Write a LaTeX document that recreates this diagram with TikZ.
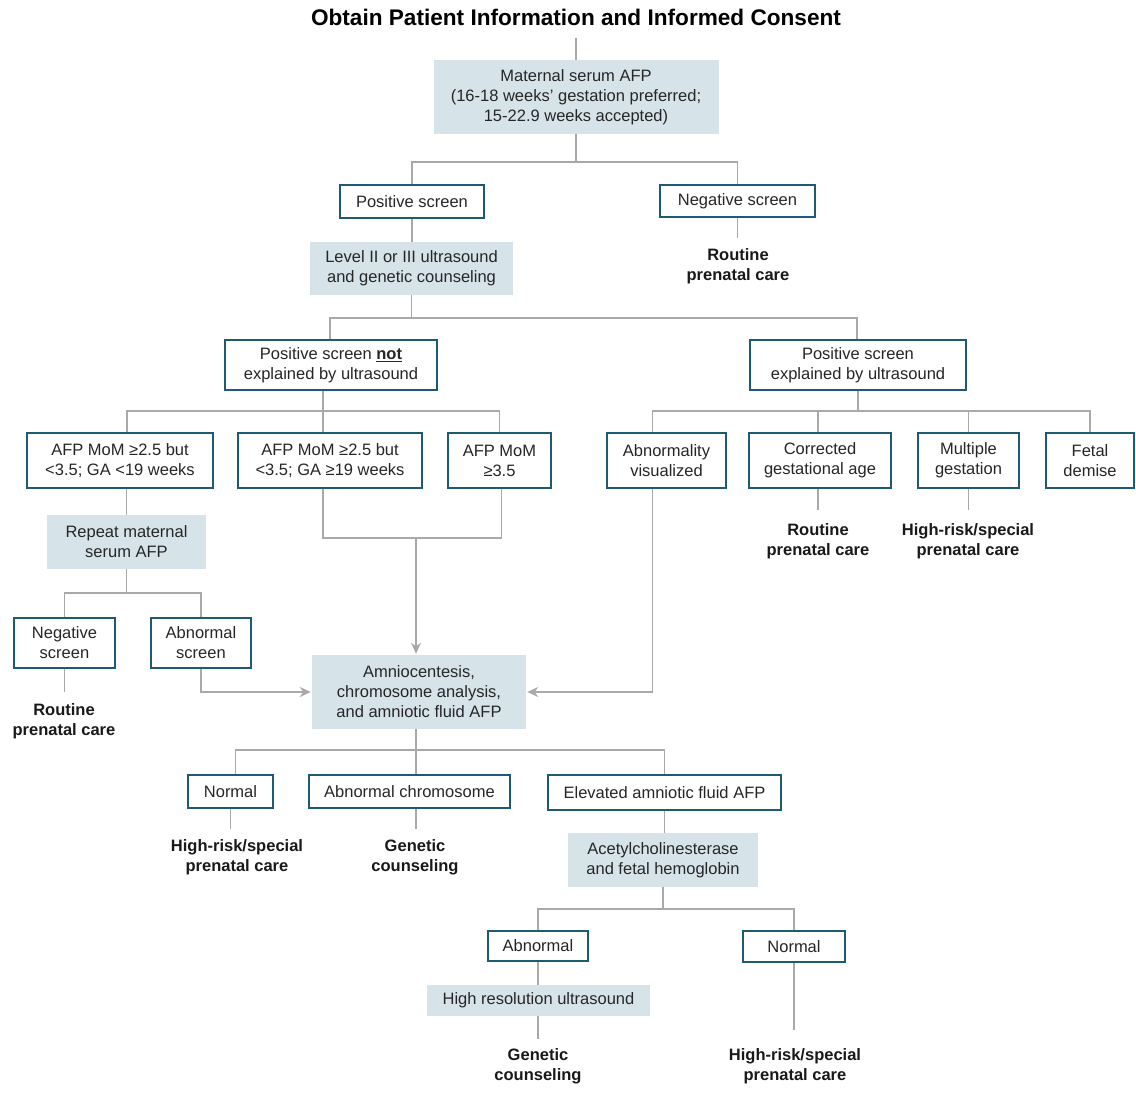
\documentclass[tikz,border=0pt]{standalone}
\usepackage{fontspec}
\setmainfont{Liberation Sans}
\usetikzlibrary{arrows.meta}
\definecolor{boxfill}{HTML}{D6E4E9}
\definecolor{boxline}{HTML}{1F5A73}
\definecolor{conncol}{HTML}{A9A9A9}
\definecolor{txt}{HTML}{262626}
\begin{document}
\begin{tikzpicture}[x=1pt,y=-1pt,
  every node/.style={font=\fontsize{16.5}{20}\selectfont, text=txt, align=center, inner sep=0pt},
  obox/.style={draw=boxline, line width=1.8pt, fill=white},
  fbox/.style={fill=boxfill},
  lbl/.style={font=\fontsize{16.5}{20}\selectfont\bfseries, text=black!90},
  conn/.style={draw=conncol, line width=1.8pt},
  arr/.style={conn, -{Stealth[length=11pt,width=10pt]}}
]
\useasboundingbox (0,0) rectangle (1136,1104);
\fill[white] (0,0) rectangle (1136,1104);

% title
\node[font=\fontsize{22.6}{26}\selectfont\bfseries, text=black] (title) at (576,17) {Obtain Patient Information and Informed Consent};
\coordinate (c0) at (576,38);

% level 1
\node[fbox, minimum width=285, minimum height=74] (msafp) at (576,97) {Maternal serum AFP\\(16-18 weeks' gestation preferred;\\15-22.9 weeks accepted)};
\node[obox, minimum width=144, minimum height=33] (pos) at (412,201.5) {Positive screen};
\node[obox, minimum width=155, minimum height=32] (neg) at (737.5,201) {Negative screen};
\node[lbl] (negl) at (738,266) {Routine\\prenatal care};
\node[fbox, minimum width=203, minimum height=53] (lvl) at (411.5,268.5) {Level II or III ultrasound\\and genetic counseling};

% level 2
\node[obox, minimum width=212, minimum height=50] (pnot) at (331,365) {Positive screen \underline{\textbf{not}}\\explained by ultrasound};
\node[obox, minimum width=216, minimum height=50] (pexp) at (858,365) {Positive screen\\explained by ultrasound};

% level 3 left
\node[obox, minimum width=186, minimum height=55] (a1) at (120,460.5) {AFP MoM ≥2.5 but\\<3.5; GA <19 weeks};
\node[obox, minimum width=184, minimum height=55] (a2) at (330,460.5) {AFP MoM ≥2.5 but\\<3.5; GA ≥19 weeks};
\node[obox, minimum width=103, minimum height=55] (a3) at (499.5,460.5) {AFP MoM\\≥3.5};

% level 3 right
\node[obox, minimum width=119, minimum height=55] (abv) at (666.5,460.5) {Abnormality\\visualized};
\node[obox, minimum width=142, minimum height=55] (cor) at (820,460.5) {Corrected\\gestational age};
\node[obox, minimum width=101, minimum height=55] (mul) at (968.5,460.5) {Multiple\\gestation};
\node[obox, minimum width=88, minimum height=55] (fet) at (1090,460.5) {Fetal\\demise};
\node[lbl] (corl) at (818,541.5) {Routine\\prenatal care};
\node[lbl] (mull) at (968,541.5) {High-risk/special\\prenatal care};

% repeat branch
\node[fbox, minimum width=159, minimum height=54] (rep) at (126.5,542) {Repeat maternal\\serum AFP};
\node[obox, minimum width=101, minimum height=50] (nscr) at (64.5,643) {Negative\\screen};
\node[obox, minimum width=100, minimum height=50] (ascr) at (201,643) {Abnormal\\screen};
\node[lbl] (nscrl) at (64,721.5) {Routine\\prenatal care};

% amnio
\node[fbox, minimum width=214, minimum height=74] (amn) at (419,692) {Amniocentesis,\\chromosome analysis,\\and amniotic fluid AFP};
\node[obox, minimum width=85, minimum height=33] (nor) at (230.5,791.5) {Normal};
\node[obox, minimum width=201, minimum height=33] (achr) at (409.5,791.5) {Abnormal chromosome};
\node[obox, minimum width=233, minimum height=35] (elev) at (664.5,792.5) {Elevated amniotic fluid AFP};
\node[lbl] (norl) at (237,857.5) {High-risk/special\\prenatal care};
\node[lbl] (achrl) at (415,857.5) {Genetic\\counseling};
\node[fbox, minimum width=190, minimum height=54] (ace) at (663,860) {Acetylcholinesterase\\and fetal hemoglobin};
\node[obox, minimum width=100, minimum height=30] (ab2) at (538,946) {Abnormal};
\node[obox, minimum width=102, minimum height=31] (no2) at (794,946.5) {Normal};
\node[fbox, minimum width=223, minimum height=31] (hr) at (538.5,1000.5) {High resolution ultrasound};
\node[lbl] (ab2l) at (538,1066.5) {Genetic\\counseling};
\node[lbl] (no2l) at (795,1066.5) {High-risk/special\\prenatal care};

% connectors
\draw[conn] (c0) -- (msafp.north);
\draw[conn] (msafp.south) -- ++(0,28) coordinate (b1);
\draw[conn] (pos.north) |- (b1) -| (neg.north);
\draw[conn, shorten >=10pt] (neg.south) -- (neg.south |- negl.north);
\draw[conn] (pos.south) -- (pos.south |- lvl.north);
\draw[conn] (lvl.south) -- ++(0,23) coordinate (b2);
\draw[conn] ([xshift=-1]pnot.north) |- (b2) -| ([xshift=-1]pexp.north);

\draw[conn] ([xshift=-8]pnot.south) -- ++(0,20) coordinate (b3) -- ([xshift=-7]a2.north);
\draw[conn] ([xshift=7]a1.north) |- (b3) -| (a3.north);

\draw[conn] (pexp.south) -- ++(0,20) coordinate (b4);
\draw[conn] ([xshift=-14]abv.north) |- (b4) -| (fet.north);
\draw[conn] ([xshift=-2]cor.north) -- ([xshift=-2]cor.north |- b4);
\draw[conn] (mul.north) -- (mul.north |- b4);
\draw[conn, shorten >=14pt] ([xshift=-2]cor.south) -- ([xshift=-2]cor.south |- corl.north);
\draw[conn, shorten >=14pt] (mul.south) -- (mul.south |- mull.north);

\draw[conn] (rep.north) -- (rep.north |- a1.south);
\draw[conn] (rep.south) -- ++(0,24) coordinate (b5);
\draw[conn] (nscr.north) |- (b5) -| (ascr.north);
\draw[conn, shorten >=12pt] (nscr.south) -- (nscr.south |- nscrl.north);
\draw[arr] (ascr.south) |- ([xshift=-1]amn.west);
\draw[arr] ([xshift=-14]abv.south) |- ([xshift=1]amn.east);

\draw[conn] ([xshift=-7]a2.south) -- ++(0,49) coordinate (b6) -| ([xshift=2]a3.south);
\draw[arr] (b6 -| amn.north) ++(-3,0) -- ([xshift=-3,yshift=1]amn.north);

\draw[conn] ([xshift=-3]amn.south) -- ++(0,21) coordinate (b7);
\draw[conn] ([xshift=5]nor.north) |- (b7) -| (elev.north);
\draw[conn] ([xshift=6.5]achr.north) -- ([xshift=6.5]achr.north |- b7);
\draw[conn, shorten >=11pt] (nor.south) -- (nor.south |- norl.north);
\draw[conn, shorten >=11pt] ([xshift=6.5]achr.south) -- ([xshift=6.5]achr.south |- achrl.north);
\draw[conn] (elev.south) -- (elev.south |- ace.north);
\draw[conn] (ace.south) -- ++(0,22) coordinate (b8);
\draw[conn] (ab2.north) |- (b8) -| (no2.north);
\draw[conn] (ab2.south) -- (ab2.south |- hr.north);
\draw[conn, shorten >=10pt] (ab2.south |- hr.south) -- (ab2.south |- ab2l.north);
\draw[conn, shorten >=19pt] (no2.south) -- (no2.south |- no2l.north);
\end{tikzpicture}
\end{document}
